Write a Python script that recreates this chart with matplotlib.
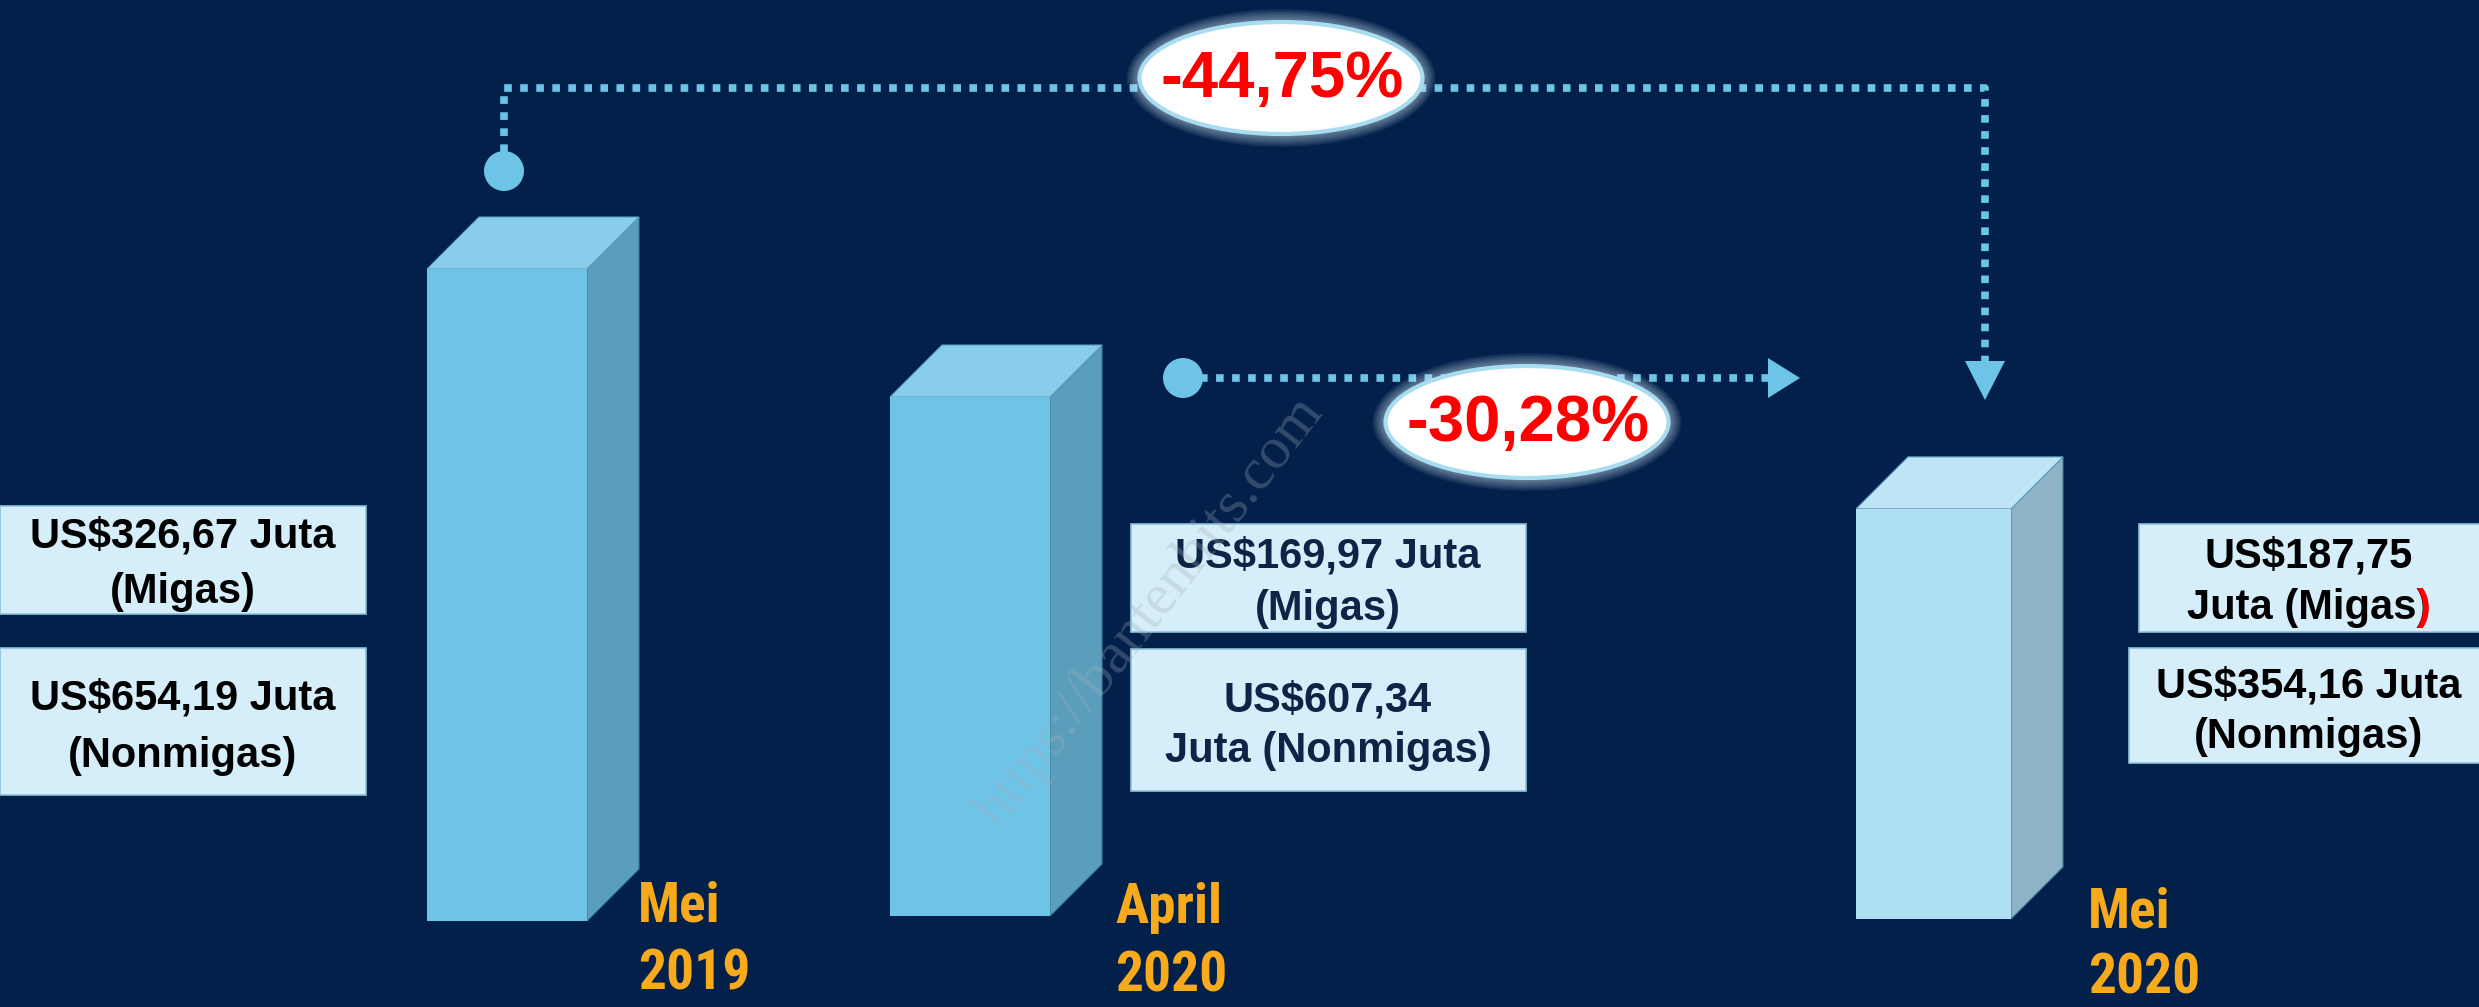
import matplotlib.pyplot as plt
from matplotlib import font_manager
from matplotlib.patches import Polygon, Ellipse, Rectangle, Circle

# data
periods = ['Mei\n2019', 'April\n2020', 'Mei\n2020']
migas = [326.67, 169.97, 187.75]        # US$ juta
nonmigas = [654.19, 607.34, 354.16]     # US$ juta
bar_height = [100, 79.6, 62.9]          # relative bar height (Mei 2019 = 100)
changes = ['-44,75%', '-30,28%']

W, H = 2479, 1007
BG = '#02204a'
LINE = '#6ec4e7'

names = {f.name for f in font_manager.fontManager.ttflist}
narrow = [n for n in ['Liberation Sans Narrow', 'Arial Narrow', 'Roboto Condensed'] if n in names]
DATE_FAMILY = narrow[0] if narrow else 'Liberation Sans'
DATE_SIZE = 40 if narrow else 35

fig = plt.figure(figsize=(W / 100, H / 100), dpi=100, facecolor=BG)
ax = fig.add_axes([0, 0, 1, 1])
ax.set_xlim(0, W)
ax.set_ylim(H, 0)
ax.axis('off')

# bars (3d boxes)
bar_left = [427, 890, 1856]
bar_width = [160, 160, 155]
bar_base = [921, 916, 919]
depth = 52
unit = 6.52
front_c = ['#6ec4e7', '#6ec4e7', '#aedff2']
top_c = ['#8acdeb', '#8acdeb', '#bfe4f5']
side_c = ['#5a9ebb', '#5a9ebb', '#8eb3c6']
for i in range(3):
    x0, w, y0 = bar_left[i], bar_width[i], bar_base[i]
    y1 = y0 - bar_height[i] * unit
    ax.add_patch(Polygon([(x0 + w, y0), (x0 + w + depth, y0 - depth), (x0 + w + depth, y1 - depth), (x0 + w, y1)],
                         closed=True, fc=side_c[i], ec='#3f7c9a', lw=0.8, zorder=2))
    ax.add_patch(Polygon([(x0, y1), (x0 + w, y1), (x0 + w + depth, y1 - depth), (x0 + depth, y1 - depth)],
                         closed=True, fc=top_c[i], ec='#5d9fbe', lw=0.8, zorder=2))
    ax.add_patch(Rectangle((x0, y1), w, y0 - y1, fc=front_c[i], ec='none', zorder=2))

# value boxes
fmt = lambda v: 'US$' + f'{v:.2f}'.replace('.', ',')
text_x = [183, 1328, 2309]
text_c = ['black', '#0c2445', 'black']
boxes_m = [(0, 506, 366, 614), (1131, 524, 1526, 632), (2139, 524, 2500, 632)]
boxes_n = [(0, 648, 366, 795), (1131, 649, 1526, 791), (2129, 648, 2500, 763)]
base_m = [(548, 603), (568, 620), (568, 619)]
base_n = [(710, 767), (711, 762), (697, 748)]
lines_m = [(fmt(migas[0]) + ' Juta', '(Migas)'),
           (fmt(migas[1]) + ' Juta', '(Migas)'),
           (fmt(migas[2]), 'Juta (Migas)')]
lines_n = [(fmt(nonmigas[0]) + ' Juta', '(Nonmigas)'),
           (fmt(nonmigas[1]), 'Juta (Nonmigas)'),
           (fmt(nonmigas[2]) + ' Juta', '(Nonmigas)')]

lab_font = dict(family='Liberation Sans', fontsize=30, fontweight='bold', ha='center', va='baseline', zorder=6)
red_paren = None
for i in range(3):
    for (x0, y0, x1, y1), bl, ln in ((boxes_m[i], base_m[i], lines_m[i]), (boxes_n[i], base_n[i], lines_n[i])):
        ax.add_patch(Rectangle((x0, y0), x1 - x0, y1 - y0, fc='#d6eef9', ec='#8cc2db', lw=1.2, zorder=5))
        for yb, s in zip(bl, ln):
            t = ax.text(text_x[i], yb, s, color=text_c[i], **lab_font)
            if s == 'Juta (Migas)':
                red_paren = (t, yb)

# period labels
date_x = [638, 1115, 2088]
date_base = [(922, 990), (923, 992), (927, 994)]
for i, p in enumerate(periods):
    for yb, s in zip(date_base[i], p.split('\n')):
        ax.text(date_x[i], yb, s, family=DATE_FAMILY, fontsize=DATE_SIZE, fontweight='bold',
                color='#f6aa1c', ha='left', va='baseline', zorder=6)

# watermark (sits under the ellipses)
ax.text(1150, 612, 'https://bantenhits.com', family='Liberation Serif', fontsize=43, color='#a3aebb',
        alpha=0.3, rotation=52, ha='center', va='center', zorder=6.5)

# connectors
dot = dict(lw=5.5, color=LINE, linestyle=(0, (1, 1.1)), dash_capstyle='butt', zorder=3)
ax.plot([504, 504, 1985, 1985], [152, 88, 88, 362], **dot)
ax.plot([1200, 1768], [378, 378], **dot)
ax.add_patch(Circle((504, 171), 20, fc=LINE, ec='none', zorder=4))
ax.add_patch(Circle((1183, 378), 20, fc=LINE, ec='none', zorder=4))
ax.add_patch(Polygon([(1965, 361), (2005, 361), (1985, 400)], closed=True, fc=LINE, ec='none', zorder=4))
ax.add_patch(Polygon([(1768, 358), (1768, 398), (1800, 378)], closed=True, fc=LINE, ec='none', zorder=4))

# percentage ellipses
for (cx, cy), s in zip([(1281, 78), (1527, 422)], changes):
    for k in range(8, 0, -1):
        ax.add_patch(Ellipse((cx, cy), 285 + 3 * k, 114 + 3 * k, fc='#dff3fb', ec='none', alpha=0.07, zorder=7))
    ax.add_patch(Ellipse((cx, cy), 283, 112, fc='white', ec='#a8dcf1', lw=3, zorder=7))
    ax.text(cx + 1, cy + 2, s, family='Liberation Sans', fontsize=47, fontweight='bold', color='#ff0000',
            ha='center', va='center', zorder=8)

# red closing bracket on 'Juta (Migas)'
fig.canvas.draw()
t, yb = red_paren
bb = t.get_window_extent()
xr = ax.transData.inverted().transform((bb.x1, bb.y0))[0]
ax.text(xr, yb, ')', color='#ff0000', **{**lab_font, 'ha': 'right'})

fig.savefig('out.png', dpi=100, facecolor=BG)
